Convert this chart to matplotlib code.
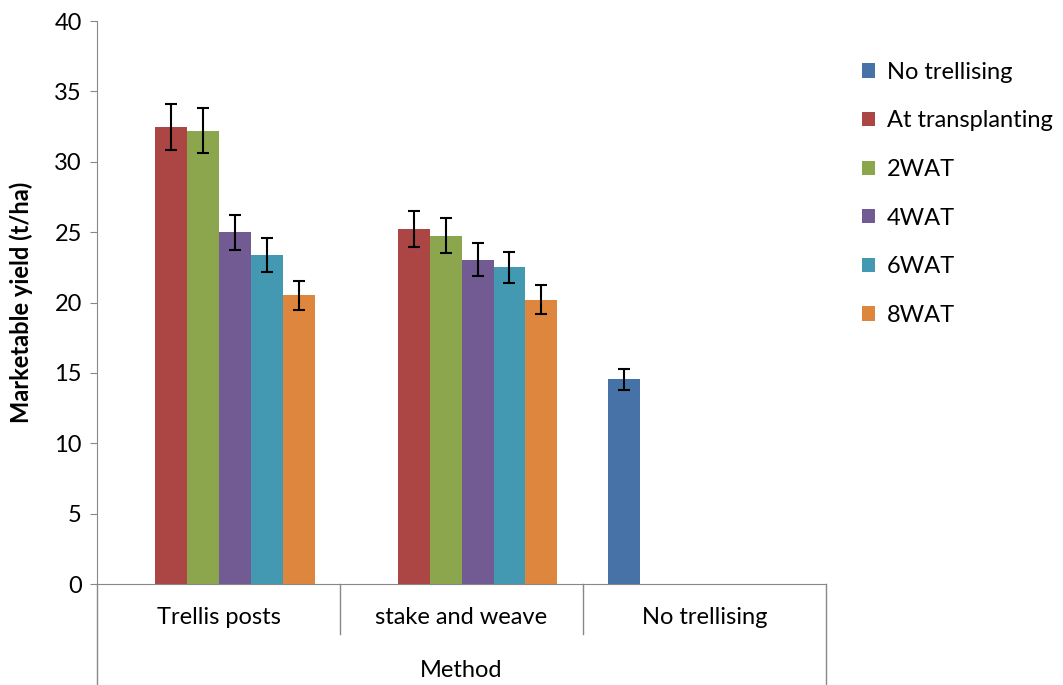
import numpy as np
import matplotlib.pyplot as plt
from matplotlib.patches import Patch

plt.rcParams.update({
    'font.family': ['Lato', 'DejaVu Sans'],
    'figure.dpi': 100,
    'savefig.dpi': 100,
})

# data
methods = ['Trellis posts', 'stake and weave', 'No trellising']
series = ['No trellising', 'At transplanting', '2WAT', '4WAT', '6WAT', '8WAT']
no_trellis = [np.nan, np.nan, 14.55]
at_transplant = [32.5, 25.2, np.nan]
wat2 = [32.2, 24.75, np.nan]
wat4 = [25.0, 23.05, np.nan]
wat6 = [23.4, 22.5, np.nan]
wat8 = [20.5, 20.2, np.nan]
no_trellis_err = [np.nan, np.nan, 0.73]
at_transplant_err = [1.63, 1.27, np.nan]
wat2_err = [1.6, 1.23, np.nan]
wat4_err = [1.25, 1.16, np.nan]
wat6_err = [1.2, 1.12, np.nan]
wat8_err = [1.05, 1.02, np.nan]

values = [no_trellis, at_transplant, wat2, wat4, wat6, wat8]
errors = [no_trellis_err, at_transplant_err, wat2_err, wat4_err, wat6_err, wat8_err]
colors = ['#4672A8', '#AB4644', '#8BA64D', '#725A92', '#4399B1', '#DE853E']

fig = plt.figure(figsize=(10.63, 6.85))
ax = fig.add_axes([0.0913, 0.1474, 0.6857, 0.8219])

x = np.arange(len(methods))
w = 0.1317
for i, (vals, errs, c) in enumerate(zip(values, errors, colors)):
    pos = x + (i - 2.5) * w
    ax.bar(pos, vals, width=w, color=c, edgecolor='none', label=series[i])
    ax.errorbar(pos, vals, yerr=errs, fmt='none', ecolor='black',
                elinewidth=1.5, capsize=4.5, capthick=1.5)

ax.set_xlim(-0.5, 2.5)
ax.set_ylim(0, 40)
ax.set_yticks(range(0, 41, 5))
ax.tick_params(axis='y', labelsize=17, length=5, color='#888888', pad=6)
ax.set_xticks([])

for s in ['top', 'right']:
    ax.spines[s].set_visible(False)
ax.spines['left'].set_color('#888888')
ax.spines['bottom'].set_color('#888888')

# category dividers below the axis
tr = ax.get_xaxis_transform()
for xd in [0.5, 1.5]:
    ax.plot([xd, xd], [0, -0.089], transform=tr, color='#888888', lw=1, clip_on=False)
for xd in [-0.5, 2.5]:
    ax.plot([xd, xd], [0, -0.185], transform=tr, color='#888888', lw=1, clip_on=False)

for xi, m in zip(x, methods):
    ax.text(xi, -0.06, m, transform=tr, ha='center', va='center', fontsize=17)
ax.text(1.0, -0.153, 'Method', transform=tr, ha='center', va='center', fontsize=17)

ax.set_ylabel('Marketable yield (t/ha)', fontsize=17, fontweight='bold', labelpad=15)

handles = [Patch(facecolor=c, edgecolor='none') for c in colors]
fig.legend(handles, series, loc='upper left', bbox_to_anchor=(0.7996, 0.927),
           frameon=False, fontsize=17, handlelength=0.55, handleheight=0.55,
           handletextpad=0.5, labelspacing=1.17, borderpad=0)

fig.savefig('out.png')
